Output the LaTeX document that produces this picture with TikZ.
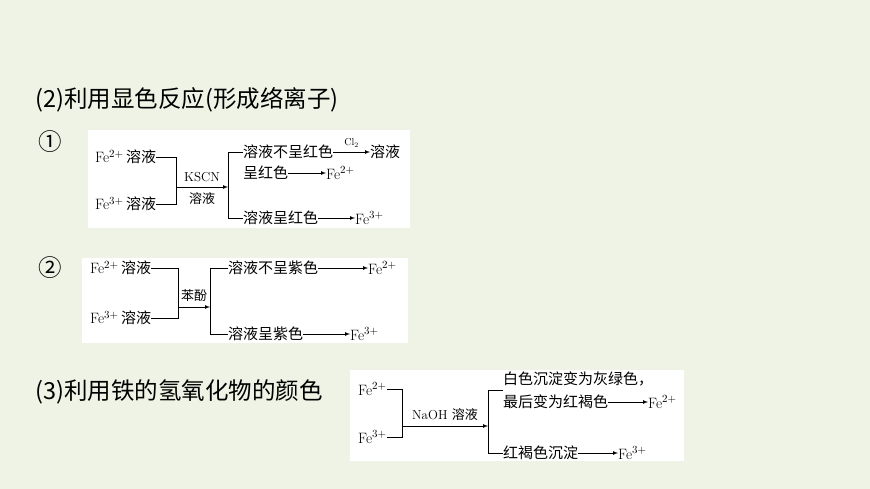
\documentclass[tikz,border=0pt]{standalone}
\usepackage{fontspec}
\newfontfamily\cjk{Noto Sans CJK SC}
\usetikzlibrary{positioning}
\definecolor{bgcol}{HTML}{EEF3E5}
\tikzset{
  txt/.style={anchor=west, inner sep=0pt, font=\fontsize{15}{16}\selectfont},
  head/.style={anchor=west, inner sep=0pt, font=\cjk\fontsize{23.5}{26}\selectfont},
  card/.style={fill=white, draw=none},
  ln/.style={line width=0.7pt},
  arr/.style={line width=0.7pt, -latex}
}
\newcommand{\fe}[1]{Fe$^{#1+}$}
\begin{document}
\begin{tikzpicture}[x=1pt, y=-1pt]
  \fill[bgcol] (0,0) rectangle (870,489);
  \useasboundingbox (0,0) rectangle (870,489);
  % headings
  \node[head] (h2) at (35,100) {(2)利用显色反应(形成络离子)};
  \node[head] (c1) at (38,142) {①};
  \node[head] (c2) at (38,268) {②};
  \node[head] (h3) at (35,392) {(3)利用铁的氢氧化物的颜色};
  % box 1
  \fill[card] (88,130) rectangle (410,228);
  \node[txt] (a2) at (95,157) {\fe{2}\,{\cjk 溶液}};
  \node[txt] (a3) at (95,204) {\fe{3}\,{\cjk 溶液}};
  \draw[ln] (a2.east) -- (176,157) -- (176,204) -- (a3.east);
  \coordinate (aj) at (228,187);
  \draw[arr] (176,187) -- (aj) node[midway, above=2pt, font=\fontsize{13}{14}\selectfont] {KSCN}
    node[midway, below=2pt, font=\cjk\fontsize{13}{14}\selectfont] {溶液};
  \node[txt] (a4) at (243,152) {\cjk 溶液不呈红色};
  \node[txt] (a5) at (243,173) {\cjk 呈红色};
  \node[txt] (a6) at (243,218) {\cjk 溶液呈红色};
  \draw[ln] (a4.west) -- (228,152) -- (228,218) -- (a6.west);
  \node[txt] (a7) at (370,152) {\cjk 溶液};
  \draw[arr] (a4.east) -- (a7.west) node[midway, above=1pt, font=\fontsize{10}{11}\selectfont] {Cl$_2$};
  \node[txt] (a8) at (326,173) {\fe{2}};
  \draw[arr] (a5.east) -- (a8.west);
  \node[txt] (a9) at (355,218) {\fe{3}};
  \draw[arr] (a6.east) -- (a9.west);
  % box 2
  \fill[card] (82,258) rectangle (408,343);
  \node[txt] (b2) at (90,268) {\fe{2}\,{\cjk 溶液}};
  \node[txt] (b3) at (90,318) {\fe{3}\,{\cjk 溶液}};
  \draw[ln] (b2.east) -- (178,268) -- (178,318) -- (b3.east);
  \draw[arr] (178,307) -- (210,307) node[midway, above=2pt, font=\cjk\fontsize{13}{14}\selectfont] {苯酚};
  \node[txt] (b4) at (228,268) {\cjk 溶液不呈紫色};
  \node[txt] (b5) at (228,334) {\cjk 溶液呈紫色};
  \draw[ln] (b4.west) -- (210,268) -- (210,334) -- (b5.west);
  \node[txt] (b6) at (368,268) {\fe{2}};
  \draw[arr] (b4.east) -- (b6.west);
  \node[txt] (b7) at (350,334) {\fe{3}};
  \draw[arr] (b5.east) -- (b7.west);
  % box 3
  \fill[card] (350,370) rectangle (684,461);
  \node[txt] (c2p) at (358,389) {\fe{2}};
  \node[txt] (c3p) at (358,437) {\fe{3}};
  \draw[ln] (c2p.east) -- (402,389) -- (402,437) -- (c3p.east);
  \draw[arr] (402,426) -- (488,426) node[midway, above=2pt, font=\fontsize{13}{14}\selectfont] {NaOH {\cjk 溶液}};
  \node[txt] (c4) at (503,379) {\cjk 白色沉淀变为灰绿色，};
  \node[txt] (c5) at (503,402) {\cjk 最后变为红褐色};
  \node[txt] (c6) at (503,453) {\cjk 红褐色沉淀};
  \draw[ln] (503,390) -- (488,390) -- (488,453) -- (c6.west);
  \node[txt] (c7) at (648,402) {\fe{2}};
  \draw[arr] (c5.east) -- (c7.west);
  \node[txt] (c8) at (618,453) {\fe{3}};
  \draw[arr] (c6.east) -- (c8.west);
\end{tikzpicture}
\end{document}
